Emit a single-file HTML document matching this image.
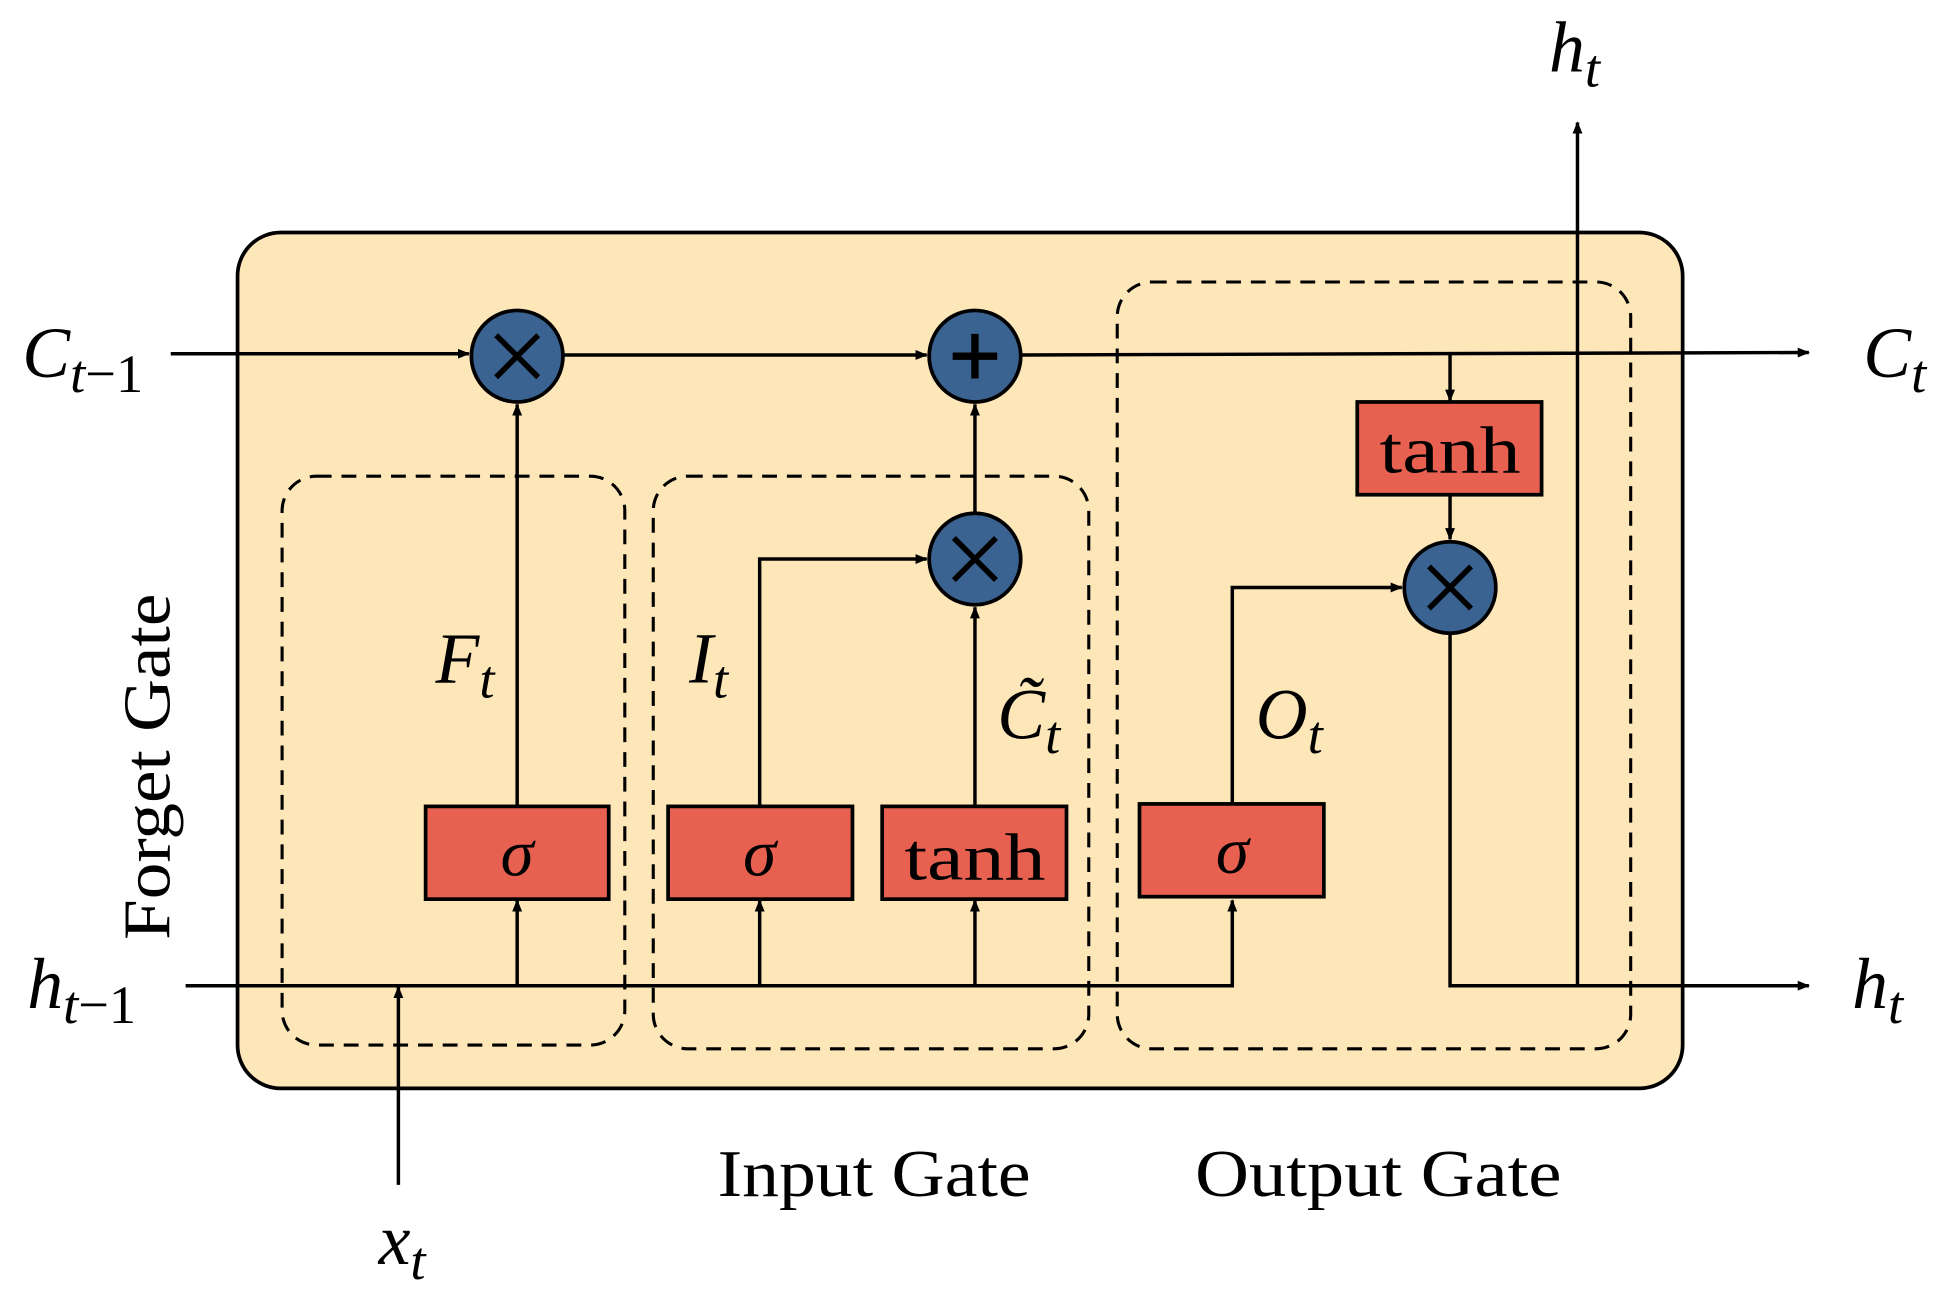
<!DOCTYPE html>
<html><head><style>
html,body{margin:0;padding:0;background:#fff;}
svg{display:block}
text{font-family:"Liberation Serif",serif;}
</style></head><body>
<svg width="1940" height="1311" viewBox="0 0 1568 1060" preserveAspectRatio="none" xmlns="http://www.w3.org/2000/svg">
<defs>
<marker id="a" markerWidth="10" markerHeight="10" refX="9" refY="5" orient="auto" markerUnits="userSpaceOnUse">
<path d="M0,1 L10,5 L0,9 Z" fill="#000"/>
</marker>
</defs>
<rect x="192" y="188" width="1168" height="692" rx="35" fill="#fde6b8" stroke="#000" stroke-width="3"/>
<g fill="none" stroke="#000" stroke-width="2.5" stroke-dasharray="12,8">
<rect x="228" y="385" width="277" height="460" rx="28"/>
<rect x="528" y="385" width="352" height="463" rx="28"/>
<rect x="903" y="228" width="415" height="620" rx="28"/>
</g>
<g stroke="#000" stroke-width="2.8" fill="none">
<line x1="138" y1="286" x2="379" y2="286" marker-end="url(#a)"/>
<line x1="456" y1="287" x2="749" y2="287" marker-end="url(#a)"/>
<line x1="826" y1="287" x2="1462" y2="285" marker-end="url(#a)"/>
<line x1="1172" y1="287" x2="1172" y2="324" marker-end="url(#a)"/>
<line x1="1172" y1="401" x2="1172" y2="436" marker-end="url(#a)"/>
<line x1="418" y1="652" x2="418" y2="327" marker-end="url(#a)"/>
<polyline points="150,797 996,797 996,728" marker-end="url(#a)"/>
<line x1="418" y1="797" x2="418" y2="728" marker-end="url(#a)"/>
<line x1="614" y1="797" x2="614" y2="728" marker-end="url(#a)"/>
<line x1="788" y1="797" x2="788" y2="728" marker-end="url(#a)"/>
<polyline points="614,652 614,452 749,452" marker-end="url(#a)"/>
<line x1="788" y1="652" x2="788" y2="491" marker-end="url(#a)"/>
<line x1="788" y1="414" x2="788" y2="327" marker-end="url(#a)"/>
<polyline points="996,650 996,475 1133,475" marker-end="url(#a)"/>
<polyline points="1172,513 1172,797 1462,797" marker-end="url(#a)"/>
<line x1="1275" y1="797" x2="1275" y2="99" marker-end="url(#a)"/>
<line x1="322" y1="958" x2="322" y2="798" marker-end="url(#a)"/>
</g>
<g fill="#3b6391" stroke="#000" stroke-width="3">
<circle cx="418" cy="288" r="37"/>
<circle cx="788" cy="288" r="37"/>
<circle cx="788" cy="452" r="37"/>
<circle cx="1172" cy="475" r="37"/>
</g>
<g stroke="#000" stroke-width="4.5">
<line x1="401" y1="271" x2="435" y2="305"/><line x1="435" y1="271" x2="401" y2="305"/>
<line x1="771" y1="435" x2="805" y2="469"/><line x1="805" y1="435" x2="771" y2="469"/>
<line x1="1155" y1="458" x2="1189" y2="492"/><line x1="1189" y1="458" x2="1155" y2="492"/>
<line x1="770" y1="288" x2="806" y2="288" stroke-width="6"/><line x1="788" y1="270" x2="788" y2="306" stroke-width="6"/>
</g>
<g fill="#e8604f" stroke="#000" stroke-width="3">
<rect x="344" y="652" width="148" height="75"/>
<rect x="540" y="652" width="149" height="75"/>
<rect x="713" y="652" width="149" height="75"/>
<rect x="921" y="650" width="149" height="75"/>
<rect x="1097" y="325" width="149" height="75"/>
</g>
<g font-size="54" text-anchor="middle" fill="#000">
<text x="418" y="708" font-style="italic">σ</text>
<text x="614" y="708" font-style="italic">σ</text>
<text x="996" y="706" font-style="italic">σ</text>
<text x="788" y="711" textLength="114" lengthAdjust="spacingAndGlyphs">tanh</text>
<text x="1172" y="382" textLength="114" lengthAdjust="spacingAndGlyphs">tanh</text>
</g>
<g font-style="italic" font-size="58" fill="#000">
<text x="18" y="305">C<tspan font-size="44" dy="12">t</tspan><tspan font-size="44" font-style="normal">−1</tspan></text>
<text x="1506" y="305">C<tspan font-size="44" dy="12">t</tspan></text>
<text x="22" y="815">h<tspan font-size="44" dy="12">t</tspan><tspan font-size="44" font-style="normal">−1</tspan></text>
<text x="1497" y="815">h<tspan font-size="44" dy="12">t</tspan></text>
<text x="1252" y="58">h<tspan font-size="44" dy="12">t</tspan></text>
<text x="306" y="1022">x<tspan font-size="44" dy="12">t</tspan></text>
<text x="352" y="552">F<tspan font-size="44" dy="12">t</tspan></text>
<text x="557" y="552">I<tspan font-size="44" dy="12">t</tspan></text>
<text x="806" y="597">C̃<tspan font-size="44" dy="12">t</tspan></text>
<text x="1015" y="597">O<tspan font-size="44" dy="12">t</tspan></text>
</g>
<g font-size="54" fill="#000">
<text x="580" y="967" textLength="253" lengthAdjust="spacingAndGlyphs">Input Gate</text>
<text x="966" y="967" textLength="296" lengthAdjust="spacingAndGlyphs">Output Gate</text>
<text transform="translate(137,620) rotate(-90)" text-anchor="middle" textLength="280" lengthAdjust="spacingAndGlyphs">Forget Gate</text>
</g>
</svg>
</body></html>
